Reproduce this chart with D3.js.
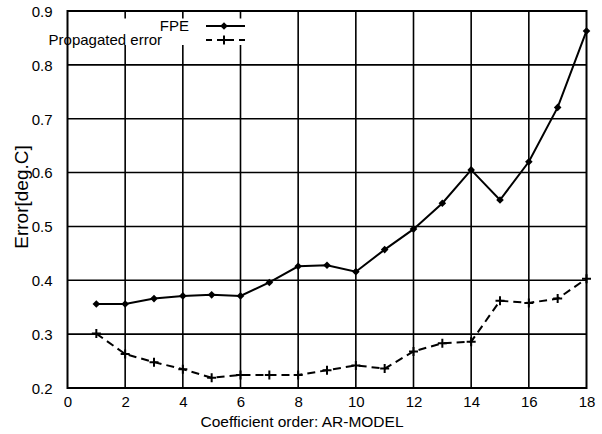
<!DOCTYPE html>
<html>
<head>
<meta charset="utf-8">
<script src="https://cdn.jsdelivr.net/npm/d3@7"></script>
<style>
  html, body { margin: 0; padding: 0; background: #fff; }
  svg { display: block; }
  text { font-family: "Liberation Sans", Arial, sans-serif; fill: #000; }
</style>
</head>
<body>
<svg id="chart" width="602" height="434"></svg>
<script>
// ---- data ----
const orders = [1, 2, 3, 4, 5, 6, 7, 8, 9, 10, 11, 12, 13, 14, 15, 16, 17, 18];
const fpe = [0.356, 0.356, 0.366, 0.371, 0.373, 0.371, 0.396, 0.426, 0.428, 0.416,
             0.457, 0.495, 0.543, 0.605, 0.549, 0.620, 0.721, 0.863];
const propagated = [0.301, 0.263, 0.248, 0.235, 0.219, 0.224, 0.224, 0.224, 0.233, 0.242,
                    0.236, 0.268, 0.283, 0.286, 0.362, 0.358, 0.366, 0.403];
const xTicks = [0, 2, 4, 6, 8, 10, 12, 14, 16, 18];
const yTicks = [0.2, 0.3, 0.4, 0.5, 0.6, 0.7, 0.8, 0.9];
const seriesNames = ["FPE", "Propagated error"];
const xTitle = "Coefficient order: AR-MODEL";
const yTitle = "Error[deg.C]";

// ---- layout ----
const svg = d3.select("#chart");
const L = 67.5, R = 586.5, T = 11, B = 388;
const x = d3.scaleLinear().domain([0, 18]).range([L, R]);
const y = d3.scaleLinear().domain([0.2, 0.9]).range([B, T]);

// grid
const grid = svg.append("g").attr("stroke", "#000").attr("stroke-width", 1.6);
grid.selectAll("line.v").data(xTicks.slice(1, -1)).join("line")
  .attr("x1", d => x(d)).attr("x2", d => x(d)).attr("y1", T).attr("y2", B);
grid.selectAll("line.h").data(yTicks.slice(1, -1)).join("line")
  .attr("y1", d => y(d)).attr("y2", d => y(d)).attr("x1", L).attr("x2", R);

// legend box (white, masks grid)
svg.append("rect").attr("x", 48).attr("y", 18.5).attr("width", 199).attr("height", 26.5)
  .attr("fill", "#fff");

// border
svg.append("rect").attr("x", L).attr("y", T).attr("width", R - L).attr("height", B - T)
  .attr("fill", "none").attr("stroke", "#000").attr("stroke-width", 2);

// axes (labels only)
const xAxis = d3.axisBottom(x).tickValues(xTicks).tickSize(0).tickPadding(8).tickFormat(d3.format("d"));
const gx = svg.append("g").attr("transform", `translate(0,${B})`).call(xAxis);
gx.select(".domain").remove();
gx.selectAll("text").attr("font-size", 15).attr("font-family", "Liberation Sans, Arial, sans-serif")
  .attr("fill", "#000");

const yAxis = d3.axisLeft(y).tickValues(yTicks).tickSize(0).tickPadding(15).tickFormat(d3.format(".1f"));
const gy = svg.append("g").attr("transform", `translate(${L},0)`).call(yAxis);
gy.select(".domain").remove();
gy.selectAll("text").attr("font-size", 15).attr("font-family", "Liberation Sans, Arial, sans-serif")
  .attr("fill", "#000").attr("dy", "0.36em");

// titles
svg.append("text").attr("x", 302).attr("y", 427).attr("text-anchor", "middle")
  .attr("font-size", 15.5).text(xTitle);
svg.append("text").attr("transform", "translate(28,197) rotate(-90)").attr("text-anchor", "middle")
  .attr("font-size", 19).text(yTitle);

// lines
const line = d3.line().x((d, i) => x(orders[i])).y(d => y(d));
svg.append("path").datum(fpe).attr("d", line).attr("fill", "none")
  .attr("stroke", "#000").attr("stroke-width", 2).attr("stroke-linejoin", "miter");
svg.append("path").datum(propagated).attr("d", line).attr("fill", "none")
  .attr("stroke", "#000").attr("stroke-width", 2).attr("stroke-dasharray", "8,5");

// markers
const diamond = (cx, cy, r) => `M${cx},${cy - r}L${cx + r},${cy}L${cx},${cy + r}L${cx - r},${cy}Z`;
const plus = (cx, cy, r) => `M${cx - r},${cy}H${cx + r}M${cx},${cy - r}V${cy + r}`;
svg.append("g").selectAll("path").data(fpe).join("path")
  .attr("d", (d, i) => diamond(x(orders[i]), y(d), 3.8)).attr("fill", "#000");
svg.append("g").selectAll("path").data(propagated).join("path")
  .attr("d", (d, i) => plus(x(orders[i]), y(d), 4.5)).attr("stroke", "#000").attr("stroke-width", 2);

// legend
const lg = svg.append("g");
lg.append("text").attr("x", 189).attr("y", 26).attr("dy", "0.36em").attr("text-anchor", "end")
  .attr("font-size", 15).text(seriesNames[0]);
lg.append("text").attr("x", 162).attr("y", 40).attr("dy", "0.36em").attr("text-anchor", "end")
  .attr("font-size", 15).text(seriesNames[1]);
lg.append("line").attr("x1", 206).attr("x2", 245).attr("y1", 26).attr("y2", 26)
  .attr("stroke", "#000").attr("stroke-width", 2);
lg.append("path").attr("d", diamond(224, 26, 3.8)).attr("fill", "#000");
lg.append("line").attr("x1", 206).attr("x2", 245).attr("y1", 40).attr("y2", 40)
  .attr("stroke", "#000").attr("stroke-width", 2).attr("stroke-dasharray", "6,5");
lg.append("path").attr("d", plus(224, 40, 4.5)).attr("stroke", "#000").attr("stroke-width", 2);
</script>
</body>
</html>
